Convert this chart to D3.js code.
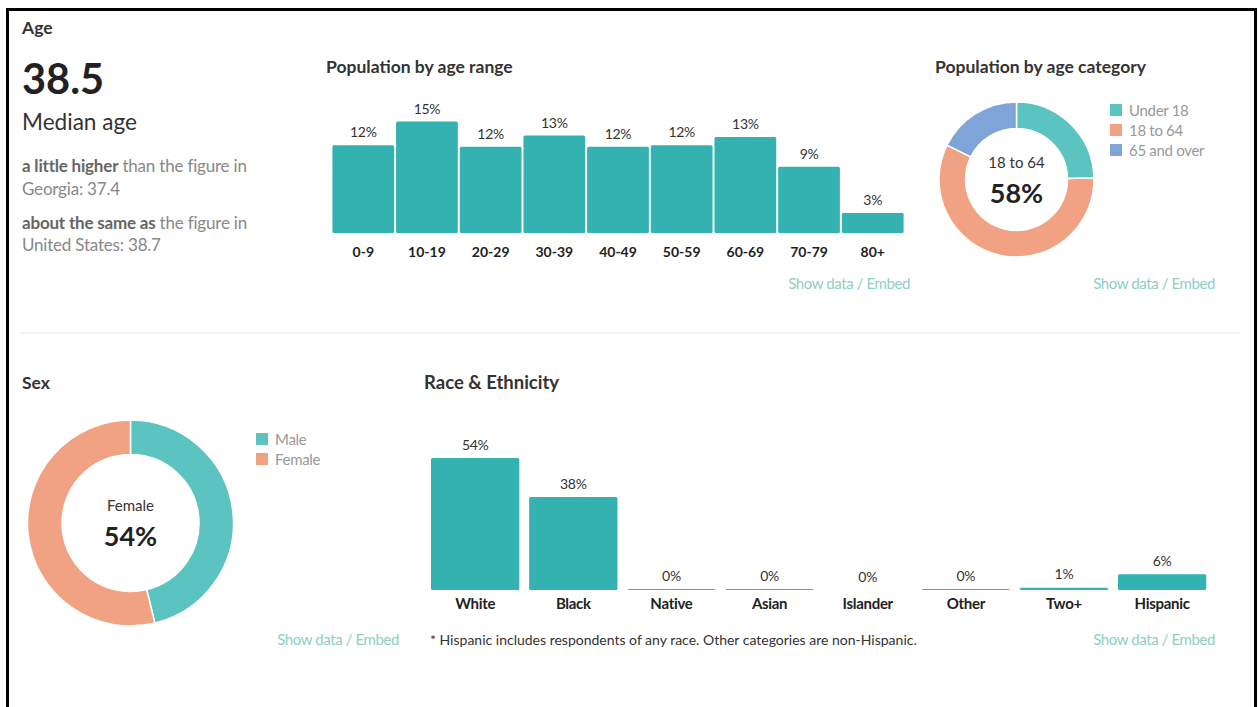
<!DOCTYPE html>
<html>
<head>
<meta charset="utf-8">
<script src="https://cdn.jsdelivr.net/npm/d3@7"></script>
<style>
  html, body { margin: 0; padding: 0; background: #fff; }
  svg { display: block; font-family: Lato, "Open Sans", sans-serif; }
  .title { font-weight: 700; fill: #333; }
  .link { fill: #8ccfc5; font-size: 15px; letter-spacing: -0.4px; }
</style>
</head>
<body>
<svg id="chart" width="1258" height="707"></svg>
<script>
// ---- data ----
const ageRanges = ["0-9", "10-19", "20-29", "30-39", "40-49", "50-59", "60-69", "70-79", "80+"];
const ageValues = [11.8, 15.0, 11.6, 13.1, 11.6, 11.8, 12.9, 8.9, 2.7];
const ageCategories = ["Under 18", "18 to 64", "65 and over"];
const ageCategoryValues = [24.7, 57.6, 17.7];
const sexCategories = ["Male", "Female"];
const sexValues = [46.2, 53.8];
const raceCategories = ["White", "Black", "Native", "Asian", "Islander", "Other", "Two+", "Hispanic"];
const raceValues = [54, 38, 0.4, 0.4, 0, 0.4, 0.9, 6.4];
const medianAge = "38.5";

const svg = d3.select("#chart");
const barColor = "#34b2b1";
const ageColor = d3.scaleOrdinal().domain(ageCategories).range(["#5cc4c0", "#f1a283", "#7fa4d7"]);
const sexColor = d3.scaleOrdinal().domain(sexCategories).range(["#5cc4c0", "#f1a283"]);
const fmtPct = v => Math.round(v) + "%";

// frame
svg.append("path")
  .attr("d", "M7.5,720 V9.5 H1255.5 V720")
  .attr("fill", "none").attr("stroke", "#000").attr("stroke-width", 3);
svg.append("line").attr("x1", 20).attr("x2", 1240).attr("y1", 333).attr("y2", 333)
  .attr("stroke", "#ededed").attr("stroke-width", 1.5);

// ---- Age header ----
svg.append("text").attr("class", "title").attr("x", 22).attr("y", 34).style("font-size", "17.5px").text("Age");
svg.append("text").attr("x", 22).attr("y", 94).style("font-size", "41.5px").style("font-weight", 700).attr("fill", "#222").text(medianAge);
svg.append("text").attr("x", 22).attr("y", 130).style("font-size", "22.6px").attr("fill", "#333").text("Median age");
function plainLine(y, txt) {
  return svg.append("text").attr("x", 22).attr("y", y).style("font-size", "17px").attr("fill", "#888").style("letter-spacing", "-0.2px").text(txt);
}
function compareLine(y, bold, rest) {
  const t = plainLine(y, null);
  t.append("tspan").style("font-weight", 700).attr("fill", "#666").text(bold);
  t.append("tspan").text(rest);
}
compareLine(172, "a little higher", " than the figure in");
plainLine(195, "Georgia: 37.4");
compareLine(229, "about the same as", " the figure in");
plainLine(251, "United States: 38.7");

// ---- Population by age range ----
svg.append("text").attr("class", "title").attr("x", 326).attr("y", 73).style("font-size", "17.5px").text("Population by age range");
const ax = d3.scaleBand().domain(ageRanges).range([332.4, 903.6]).paddingInner(0.03).paddingOuter(0.0);
const ay = d3.scaleLinear().domain([0, 15]).range([233, 121.5]);
const ageG = svg.append("g");
ageG.selectAll("rect").data(ageValues).join("rect")
  .attr("x", (d, i) => ax(ageRanges[i])).attr("width", ax.bandwidth())
  .attr("y", d => ay(d)).attr("height", d => ay(0) - ay(d))
  .attr("rx", 1.5).attr("fill", barColor);
ageG.selectAll("text.val").data(ageValues).join("text").attr("class", "val")
  .attr("x", (d, i) => ax(ageRanges[i]) + ax.bandwidth() / 2).attr("y", d => ay(d) - 8)
  .attr("text-anchor", "middle").style("font-size", "14px").style("letter-spacing", "-0.3px").attr("fill", "#333").text(fmtPct);
const ageAxis = svg.append("g").attr("transform", "translate(0,233)")
  .call(d3.axisBottom(ax).tickSize(0).tickPadding(14));
ageAxis.select(".domain").remove();
ageAxis.selectAll("text").style("font-family", "Lato, sans-serif").style("font-size", "14px").style("font-weight", 700).attr("fill", "#222");
svg.append("text").attr("class", "link").attr("x", 910).attr("y", 289).attr("text-anchor", "end").text("Show data / Embed");

// ---- donut helper ----
function donut(cx, cy, rOuter, rInner, labels, values, color, centerIdx, dyTop, dyBottom, legendX, legendY) {
  const pie = d3.pie().sort(null).value(d => d)(values);
  const arc = d3.arc().innerRadius(rInner).outerRadius(rOuter);
  const g = svg.append("g").attr("transform", `translate(${cx},${cy})`);
  g.selectAll("path").data(pie).join("path")
    .attr("d", arc).attr("fill", (d, i) => color(labels[i]))
    .attr("stroke", "#fff").attr("stroke-width", 1.5);
  g.append("text").attr("text-anchor", "middle").attr("y", dyTop)
    .style("font-size", "15px").attr("fill", "#333").text(labels[centerIdx]);
  g.append("text").attr("text-anchor", "middle").attr("y", dyBottom)
    .style("font-size", "27px").style("font-weight", 700).attr("fill", "#222").text(fmtPct(values[centerIdx]));
  const lg = svg.append("g").attr("transform", `translate(${legendX},${legendY})`);
  lg.selectAll("rect").data(labels).join("rect")
    .attr("x", 0).attr("y", (d, i) => i * 20).attr("width", 12).attr("height", 12)
    .attr("fill", d => color(d));
  lg.selectAll("text").data(labels).join("text")
    .attr("x", 19).attr("y", (d, i) => i * 20 + 11.5)
    .style("font-size", "15px").style("letter-spacing", "-0.3px").attr("fill", "#999").text(d => d);
}

// ---- Population by age category ----
svg.append("text").attr("class", "title").attr("x", 935).attr("y", 73).style("font-size", "17.5px").text("Population by age category");
donut(1016.5, 179.5, 77.5, 51, ageCategories, ageCategoryValues, ageColor, 1, -12, 23.5, 1110, 104);
svg.append("text").attr("class", "link").attr("x", 1215).attr("y", 289).attr("text-anchor", "end").text("Show data / Embed");

// ---- Sex ----
svg.append("text").attr("class", "title").attr("x", 22).attr("y", 389).style("font-size", "17.5px").text("Sex");
donut(130.5, 523, 103, 68.5, sexCategories, sexValues, sexColor, 1, -12, 23, 256, 433);
svg.append("text").attr("class", "link").attr("x", 399).attr("y", 645).attr("text-anchor", "end").text("Show data / Embed");

// ---- Race & Ethnicity ----
svg.append("text").attr("class", "title").attr("x", 424).attr("y", 389).style("font-size", "18.5px").text("Race & Ethnicity");
const rx = d3.scaleBand().domain(raceCategories).range([426.1, 1211.2]).paddingInner(0.1).paddingOuter(0.05);
const ry = d3.scaleLinear().domain([0, 54]).range([590, 458]);
const raceG = svg.append("g");
raceG.selectAll("rect").data(raceValues).join("rect")
  .attr("x", (d, i) => rx(raceCategories[i])).attr("width", rx.bandwidth())
  .attr("y", d => ry(d)).attr("height", d => ry(0) - ry(d))
  .attr("rx", 1.5).attr("fill", barColor);
raceG.selectAll("text.val").data(raceValues).join("text").attr("class", "val")
  .attr("x", (d, i) => rx(raceCategories[i]) + rx.bandwidth() / 2).attr("y", d => ry(d) - 8.5)
  .attr("text-anchor", "middle").style("font-size", "14px").style("letter-spacing", "-0.3px").attr("fill", "#333").text(fmtPct);
const raceAxis = svg.append("g").attr("transform", "translate(0,590)")
  .call(d3.axisBottom(rx).tickSize(0).tickPadding(8));
raceAxis.select(".domain").remove();
raceAxis.selectAll("text").style("font-family", "Lato, sans-serif").style("font-size", "15px").style("font-weight", 700).style("letter-spacing", "-0.3px").attr("fill", "#222");
svg.append("text").attr("x", 430).attr("y", 645).style("font-size", "14px").attr("fill", "#333")
  .text("* Hispanic includes respondents of any race. Other categories are non-Hispanic.");
svg.append("text").attr("class", "link").attr("x", 1215).attr("y", 645).attr("text-anchor", "end").text("Show data / Embed");
</script>
</body>
</html>
